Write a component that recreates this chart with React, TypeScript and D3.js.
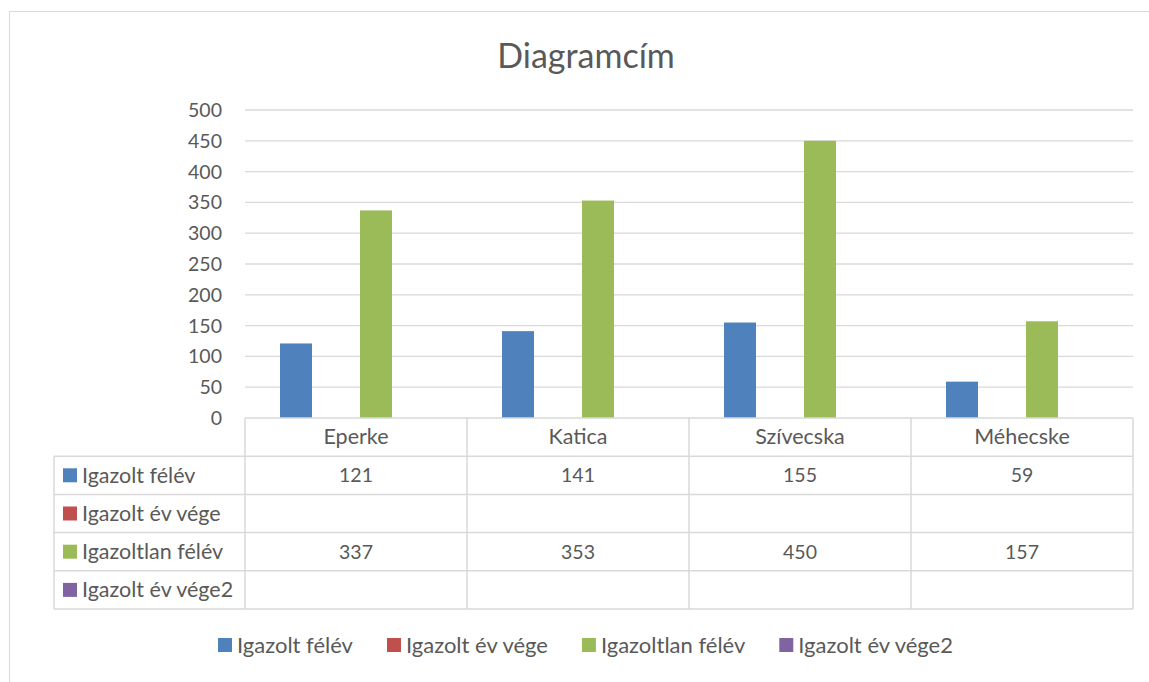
import React, { useEffect, useRef } from 'react';
import * as d3 from 'd3';

const categories = ['Eperke', 'Katica', 'Szívecska', 'Méhecske'];
const seriesNames = ['Igazolt félév', 'Igazolt év vége', 'Igazoltlan félév', 'Igazolt év vége2'];
const igazoltFelev = [121, 141, 155, 59];
const igazoltEvVege: (number | null)[] = [null, null, null, null];
const igazoltlanFelev = [337, 353, 450, 157];
const igazoltEvVege2: (number | null)[] = [null, null, null, null];
const yTicks = [0, 50, 100, 150, 200, 250, 300, 350, 400, 450, 500];
const colors = ['#4f81bd', '#c0504d', '#9bbb59', '#8064a2'];

const App = () => {
  const svgRef = useRef<SVGSVGElement>(null);

  useEffect(() => {
    const series = [igazoltFelev, igazoltEvVege, igazoltlanFelev, igazoltEvVege2];
    const font = 'Lato, "Noto Sans", sans-serif';
    const textColor = '#595959';
    const gridColor = '#d9d9d9';

    const svg = d3.select(svgRef.current);
    svg.selectAll('*').remove();

    const plot = { left: 245, right: 1133, top: 110, bottom: 418 };
    const tableLeft = 54;
    const rowH = 38.2;

    // chart border
    svg.append('rect')
      .attr('x', 9.5).attr('y', 11.5)
      .attr('width', 1160).attr('height', 700)
      .attr('fill', '#fff')
      .attr('stroke', gridColor);

    // title
    svg.append('text')
      .attr('x', 586).attr('y', 68)
      .attr('text-anchor', 'middle')
      .attr('font-family', font)
      .attr('font-size', 34)
      .attr('fill', textColor)
      .text('Diagramcím');

    const x0 = d3.scaleBand()
      .domain(categories)
      .range([plot.left, plot.right]);

    const x1 = d3.scaleBand()
      .domain(seriesNames)
      .range([0, x0.bandwidth()])
      .paddingInner(0.2)
      .paddingOuter(0.875);

    const y = d3.scaleLinear()
      .domain([0, 500])
      .range([plot.bottom, plot.top]);

    // gridlines
    svg.append('g')
      .selectAll('line')
      .data(yTicks.filter(d => d > 0))
      .enter()
      .append('line')
      .attr('x1', plot.left).attr('x2', plot.right)
      .attr('y1', d => y(d)).attr('y2', d => y(d))
      .attr('stroke', gridColor)
      .attr('stroke-width', 1.3);

    // y tick labels
    svg.append('g')
      .selectAll('text')
      .data(yTicks)
      .enter()
      .append('text')
      .attr('x', 222)
      .attr('y', d => y(d) + 7)
      .attr('text-anchor', 'end')
      .attr('font-family', font)
      .attr('font-size', 19.5)
      .attr('fill', textColor)
      .text(d => d);

    // bars
    series.forEach((values, si) => {
      svg.append('g')
        .selectAll('rect')
        .data(values.map((v, i) => ({ cat: categories[i], v })).filter(d => d.v != null))
        .enter()
        .append('rect')
        .attr('x', d => (x0(d.cat) as number) + (x1(seriesNames[si]) as number))
        .attr('y', d => y(d.v as number))
        .attr('width', x1.bandwidth())
        .attr('height', d => plot.bottom - y(d.v as number))
        .attr('fill', colors[si]);
    });

    // data table
    const table = svg.append('g');
    const rowsTop = plot.bottom + rowH;
    const tableBottom = plot.bottom + rowH * 5;

    table.append('line')
      .attr('x1', plot.left).attr('x2', plot.right)
      .attr('y1', plot.bottom).attr('y2', plot.bottom)
      .attr('stroke', gridColor).attr('stroke-width', 1.5);
    for (let r = 0; r <= 4; r++) {
      const yy = rowsTop + r * rowH;
      table.append('line')
        .attr('x1', tableLeft).attr('x2', plot.right)
        .attr('y1', yy).attr('y2', yy)
        .attr('stroke', gridColor).attr('stroke-width', 1.5);
    }
    table.append('line')
      .attr('x1', tableLeft).attr('x2', tableLeft)
      .attr('y1', rowsTop).attr('y2', tableBottom)
      .attr('stroke', gridColor).attr('stroke-width', 1.5);
    [...categories.map(c => x0(c) as number), plot.right].forEach(xx => {
      table.append('line')
        .attr('x1', xx).attr('x2', xx)
        .attr('y1', plot.bottom).attr('y2', tableBottom)
        .attr('stroke', gridColor).attr('stroke-width', 1.5);
    });

    // category header
    table.selectAll('text.cat')
      .data(categories)
      .enter()
      .append('text')
      .attr('class', 'cat')
      .attr('x', d => (x0(d) as number) + x0.bandwidth() / 2)
      .attr('y', plot.bottom + rowH / 2 + 7)
      .attr('text-anchor', 'middle')
      .attr('font-family', font)
      .attr('font-size', 21.5)
      .attr('fill', textColor)
      .text(d => d);

    // row labels and values
    seriesNames.forEach((name, si) => {
      const rowY = rowsTop + si * rowH;
      table.append('rect')
        .attr('x', 63).attr('y', rowY + rowH / 2 - 7)
        .attr('width', 14).attr('height', 14)
        .attr('fill', colors[si]);
      table.append('text')
        .attr('x', 82).attr('y', rowY + rowH / 2 + 7.5)
        .attr('font-family', font)
        .attr('font-size', 21.5)
        .attr('fill', textColor)
        .text(name);
      series[si].forEach((v, i) => {
        if (v == null) return;
        table.append('text')
          .attr('x', (x0(categories[i]) as number) + x0.bandwidth() / 2)
          .attr('y', rowY + rowH / 2 + 7)
          .attr('text-anchor', 'middle')
          .attr('font-family', font)
          .attr('font-size', 19.5)
          .attr('fill', textColor)
          .text(v);
      });
    });

    // legend
    const legend = svg.append('g');
    const legendY = 645;
    const itemGap = 34;
    let lx = 218;
    seriesNames.forEach((name, si) => {
      legend.append('rect')
        .attr('x', lx).attr('y', legendY - 7)
        .attr('width', 14).attr('height', 14)
        .attr('fill', colors[si]);
      const t = legend.append('text')
        .attr('x', lx + 19).attr('y', legendY + 7.5)
        .attr('font-family', font)
        .attr('font-size', 22)
        .attr('fill', textColor)
        .text(name);
      const w = (t.node() as SVGTextElement).getComputedTextLength();
      lx += 19 + w + itemGap;
    });
  }, []);

  return (
    <svg
      ref={svgRef}
      width={1149}
      height={682}
      style={{ position: 'absolute', left: 0, top: 0, background: '#fff' }}
    />
  );
};

export default App;
